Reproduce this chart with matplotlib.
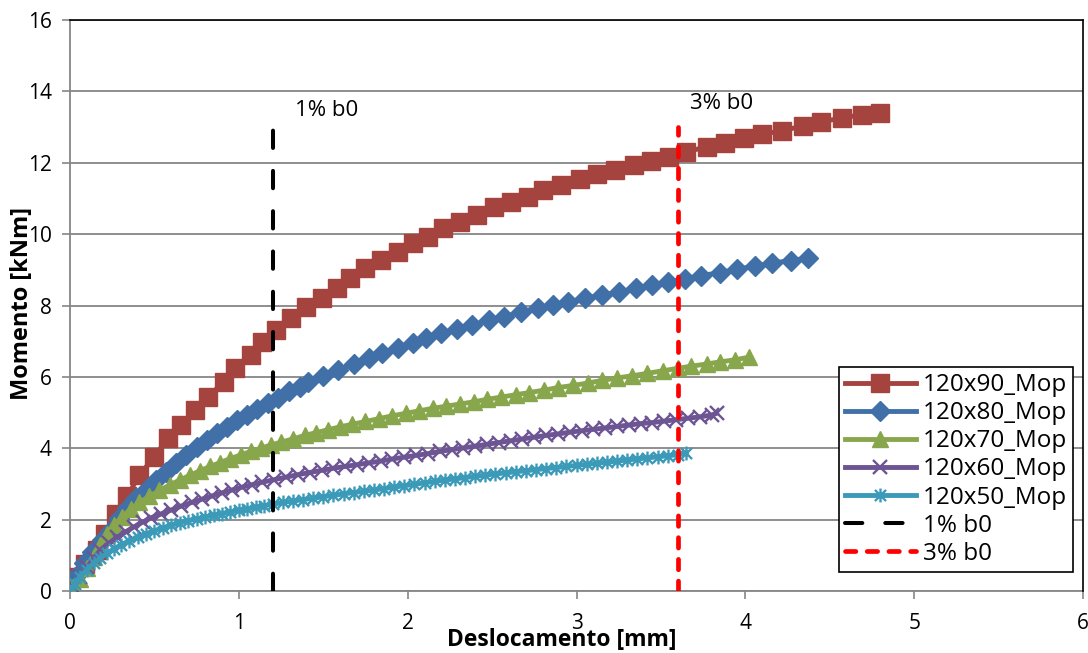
import matplotlib
matplotlib.use("Agg")
import matplotlib.pyplot as plt
from matplotlib.path import Path

plt.rcParams['font.family'] = ['Open Sans', 'DejaVu Sans']

# ---------------- data ----------------
x_90 = [0.02, 0.09, 0.16, 0.21, 0.27, 0.34, 0.41, 0.50, 0.58, 0.66, 0.74, 0.82, 0.91, 0.98,
        1.07, 1.14, 1.22, 1.31, 1.40, 1.49, 1.58, 1.66, 1.75, 1.84, 1.94, 2.03, 2.12, 2.21,
        2.31, 2.41, 2.51, 2.61, 2.71, 2.80, 2.91, 3.02, 3.12, 3.23, 3.34, 3.44, 3.55, 3.65,
        3.77, 3.88, 3.99, 4.10, 4.22, 4.34, 4.45, 4.57, 4.69, 4.80]
y_90 = [0.40, 0.75, 1.15, 1.60, 2.15, 2.65, 3.25, 3.75, 4.30, 4.65, 5.07, 5.45, 5.85, 6.25,
        6.60, 6.98, 7.30, 7.65, 7.96, 8.20, 8.50, 8.77, 9.05, 9.27, 9.50, 9.75, 9.93, 10.17,
        10.35, 10.53, 10.76, 10.90, 11.05, 11.23, 11.37, 11.55, 11.68, 11.80, 11.95, 12.05, 12.17, 12.30,
        12.45, 12.55, 12.70, 12.80, 12.90, 13.03, 13.15, 13.25, 13.35, 13.40]

x_80 = [0.00, 0.03, 0.08, 0.13, 0.19, 0.24, 0.29, 0.34, 0.39, 0.45, 0.51, 0.57, 0.63, 0.69,
        0.75, 0.81, 0.87, 0.93, 0.99, 1.05, 1.11, 1.17, 1.23, 1.30, 1.36, 1.41, 1.50, 1.59,
        1.68, 1.77, 1.85, 1.94, 2.03, 2.11, 2.20, 2.29, 2.38, 2.48, 2.57, 2.67, 2.77, 2.86,
        2.95, 3.05, 3.15, 3.25, 3.35, 3.45, 3.54, 3.64, 3.74, 3.85, 3.95, 4.06, 4.16, 4.27, 4.37]
y_80 = [0.10, 0.40, 0.78, 1.10, 1.43, 1.72, 2.05, 2.32, 2.60, 2.83, 3.10, 3.33, 3.58, 3.80,
        4.03, 4.23, 4.42, 4.60, 4.78, 4.93, 5.10, 5.27, 5.42, 5.60, 5.73, 5.85, 6.02, 6.19,
        6.37, 6.53, 6.67, 6.81, 6.95, 7.09, 7.22, 7.33, 7.46, 7.58, 7.69, 7.81, 7.92, 8.01,
        8.10, 8.20, 8.29, 8.38, 8.48, 8.57, 8.66, 8.75, 8.84, 8.92, 9.02, 9.10, 9.19, 9.26, 9.33]

x_70 = [0.02, 0.06, 0.10, 0.14, 0.18, 0.22, 0.26, 0.31, 0.36, 0.41, 0.47, 0.53, 0.59, 0.65,
        0.71, 0.77, 0.83, 0.89, 0.95, 1.01, 1.07, 1.13, 1.19, 1.25, 1.32, 1.39, 1.46, 1.53,
        1.60, 1.67, 1.75, 1.83, 1.91, 1.99, 2.07, 2.15, 2.23, 2.31, 2.39, 2.47, 2.55, 2.64,
        2.72, 2.81, 2.89, 2.98, 3.07, 3.15, 3.24, 3.33, 3.42, 3.51, 3.60, 3.68, 3.77, 3.85,
        3.94, 4.02]
y_70 = [0.10, 0.35, 0.65, 0.95, 1.30, 1.60, 1.85, 2.08, 2.30, 2.48, 2.65, 2.82, 2.97, 3.11,
        3.24, 3.37, 3.49, 3.60, 3.71, 3.81, 3.91, 4.00, 4.09, 4.17, 4.26, 4.36, 4.44, 4.52,
        4.60, 4.67, 4.75, 4.83, 4.91, 4.98, 5.05, 5.12, 5.18, 5.24, 5.30, 5.37, 5.43, 5.50,
        5.56, 5.63, 5.70, 5.76, 5.83, 5.90, 5.97, 6.03, 6.10, 6.17, 6.24, 6.30, 6.36, 6.42,
        6.48, 6.55]

x_60 = [0.02, 0.06, 0.10, 0.14, 0.18, 0.23, 0.28, 0.33, 0.38, 0.43, 0.48, 0.54, 0.60, 0.66,
        0.72, 0.78, 0.84, 0.90, 0.96, 1.02, 1.08, 1.14, 1.21, 1.28, 1.35, 1.42, 1.49, 1.56,
        1.63, 1.70, 1.77, 1.84, 1.91, 1.98, 2.05, 2.12, 2.19, 2.26, 2.33, 2.40, 2.47, 2.54,
        2.61, 2.68, 2.75, 2.82, 2.89, 2.96, 3.03, 3.10, 3.17, 3.24, 3.31, 3.38, 3.45, 3.52,
        3.59, 3.66, 3.73, 3.80, 3.83]
y_60 = [0.10, 0.40, 0.67, 0.92, 1.15, 1.34, 1.50, 1.66, 1.80, 1.93, 2.05, 2.16, 2.27, 2.38,
        2.48, 2.57, 2.66, 2.75, 2.83, 2.91, 2.98, 3.05, 3.12, 3.19, 3.26, 3.32, 3.38, 3.44,
        3.49, 3.54, 3.59, 3.64, 3.70, 3.75, 3.80, 3.85, 3.91, 3.96, 4.01, 4.06, 4.11, 4.16,
        4.21, 4.26, 4.31, 4.36, 4.40, 4.45, 4.49, 4.53, 4.57, 4.61, 4.65, 4.69, 4.72, 4.76,
        4.80, 4.84, 4.88, 4.93, 4.98]

x_50 = [0.00, 0.03, 0.06, 0.10, 0.14, 0.18, 0.22, 0.26, 0.30, 0.35, 0.40, 0.45, 0.50, 0.55,
        0.60, 0.65, 0.70, 0.75, 0.80, 0.85, 0.90, 0.95, 1.00, 1.05, 1.10, 1.15, 1.20, 1.26,
        1.32, 1.38, 1.44, 1.50, 1.56, 1.62, 1.68, 1.74, 1.80, 1.86, 1.92, 1.98, 2.04, 2.10,
        2.16, 2.22, 2.28, 2.34, 2.40, 2.46, 2.52, 2.58, 2.64, 2.70, 2.76, 2.82, 2.88, 2.94,
        3.00, 3.06, 3.12, 3.18, 3.24, 3.30, 3.36, 3.42, 3.48, 3.54, 3.60, 3.65]
y_50 = [0.00, 0.20, 0.40, 0.60, 0.78, 0.93, 1.06, 1.18, 1.29, 1.40, 1.50, 1.60, 1.69, 1.77,
        1.84, 1.91, 1.97, 2.02, 2.07, 2.12, 2.17, 2.21, 2.26, 2.30, 2.34, 2.39, 2.43, 2.48,
        2.52, 2.56, 2.60, 2.64, 2.68, 2.72, 2.76, 2.79, 2.83, 2.87, 2.91, 2.95, 2.99, 3.03,
        3.07, 3.11, 3.14, 3.18, 3.21, 3.25, 3.28, 3.31, 3.34, 3.37, 3.40, 3.43, 3.46, 3.49,
        3.52, 3.55, 3.58, 3.61, 3.64, 3.67, 3.70, 3.73, 3.76, 3.79, 3.82, 3.86]

x_1pct = [1.2, 1.2]
y_1pct = [0, 13]
x_3pct = [3.6, 3.6]
y_3pct = [0, 13]

labels = ['120x90_Mop', '120x80_Mop', '120x70_Mop', '120x60_Mop', '120x50_Mop', '1% b0', '3% b0']
x_ticks = [0, 1, 2, 3, 4, 5, 6]
y_ticks = [0, 2, 4, 6, 8, 10, 12, 14, 16]

# ---------------- styling ----------------
c_red = '#A5443F'
c_blue = '#4170A8'
c_green = '#88A74C'
c_purple = '#6D5593'
c_cyan = '#3B9AB8'

star = Path([(0, -1), (0, 1), (-0.8, -0.8), (0.8, 0.8), (-0.8, 0.8), (0.8, -0.8)],
            [Path.MOVETO, Path.LINETO, Path.MOVETO, Path.LINETO, Path.MOVETO, Path.LINETO])

fig = plt.figure(figsize=(10.88, 6.53), dpi=100)
ax = fig.add_axes([70 / 1088, 62 / 653, 1013 / 1088, 571 / 653])

lw = 3.5
ax.plot(x_90, y_90, color=c_red, lw=lw, marker='s', ms=13, mec=c_red, mfc=c_red, label=labels[0], zorder=3)
ax.plot(x_80, y_80, color=c_blue, lw=lw, marker='D', ms=10.5, mec=c_blue, mfc=c_blue, label=labels[1], zorder=4)
ax.plot(x_70, y_70, color=c_green, lw=lw, marker='^', ms=12, mec=c_green, mfc=c_green, label=labels[2], zorder=5)
ax.plot(x_60, y_60, color=c_purple, lw=lw, marker='x', ms=10, mew=1.7, mec=c_purple, label=labels[3], zorder=6)
ax.plot(x_50, y_50, color=c_cyan, lw=lw, marker=star, ms=10, mew=1.7, mec=c_cyan, mfc='none',
        label=labels[4], zorder=7)
ax.plot(x_1pct, y_1pct, color='black', lw=2.9, dashes=(4.3, 5.7), dash_capstyle='round',
        label=labels[5], zorder=8)
ax.plot(x_3pct, y_3pct, color='#FF0000', lw=3.4, dashes=(2.2, 2.4), dash_capstyle='round',
        label=labels[6], zorder=8)

ax.text(1.333, 13.47, '1% b0', fontsize=16, ha='left', va='center', zorder=9)
ax.text(3.673, 13.67, '3% b0', fontsize=16, ha='left', va='center', zorder=9)

ax.set_xlim(0, 6)
ax.set_ylim(0, 16)
ax.set_xticks(x_ticks)
ax.set_yticks(y_ticks)
ax.set_xticklabels([str(v) for v in x_ticks])
ax.set_yticklabels([str(v) for v in y_ticks])
ax.tick_params(axis='both', labelsize=15, color='#868686', length=6, width=1.2, direction='out')
ax.tick_params(axis='x', pad=10)
ax.tick_params(axis='y', pad=7)
ax.yaxis.grid(True, color='#868686', lw=1.3)
ax.set_axisbelow(True)
for s in ['left', 'bottom']:
    ax.spines[s].set_color('#868686')
    ax.spines[s].set_linewidth(1.3)
for s in ['top', 'right']:
    ax.spines[s].set_color('black')
    ax.spines[s].set_linewidth(1.2)
    ax.spines[s].set_zorder(10)

fig.text(562 / 1088, 1 - 640 / 653, 'Deslocamento [mm]', fontsize=16.5, fontweight='bold',
         ha='center', va='center')
fig.text(22 / 1088, 1 - 303 / 653, 'Momento [kNm]', fontsize=17, fontweight='bold',
         ha='center', va='center', rotation=90)

leg = ax.legend(loc='upper left', bbox_to_anchor=(839 / 1088, 1 - 367 / 653),
                bbox_transform=fig.transFigure, fontsize=17.5, numpoints=1,
                handlelength=2.9, handletextpad=0.3, labelspacing=0.17, borderpad=0.25,
                borderaxespad=0, fancybox=False, framealpha=1, edgecolor='black')
leg.get_frame().set_linewidth(1.2)
leg.set_zorder(20)
leg.set_clip_on(False)

fig.savefig('out.png', dpi=100)
